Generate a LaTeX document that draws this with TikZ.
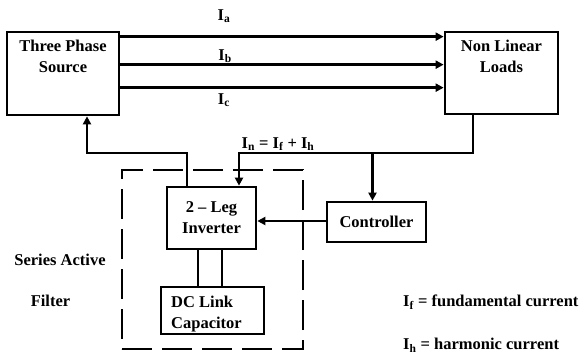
\documentclass[tikz,border=0pt]{standalone}
\usepackage{fontspec}
\setmainfont{Liberation Serif}
\usetikzlibrary{arrows.meta,positioning}
\begin{document}
\begin{tikzpicture}[
        x=1pt, y=-1pt,
        font=\fontsize{16.5}{21}\selectfont\bfseries,
        caja/.style={rectangle, draw=black, line width=2.7pt, align=center, inner sep=2pt},
        texto/.style={align=center, inner sep=0pt},
        linea/.style={line width=2.8pt},
        flecha/.style={linea, -{Triangle[length=8pt,width=8pt]}},
        marco/.style={rectangle, draw=black, line width=2.8pt, dash pattern=on 30pt off 10pt}
    ]
        \useasboundingbox (0,0) rectangle (580,356);

        % Bloques
        \node[caja, minimum width=112pt, minimum height=83pt] (src) at (63,73.5) {};
        \node[texto, below=9.5pt of src.north] (srcT) {Three Phase\\Source};
        \node[caja, minimum width=113pt, minimum height=82pt] (load) at (501.5,73) {};
        \node[texto, below=9.5pt of load.north] (loadT) {Non Linear\\Loads};
        \node[marco, minimum width=181pt, minimum height=179pt] (saf) at (212.5,259.5) {};
        \node[caja, minimum width=89pt, minimum height=62pt] (inv) at (211.5,218) {2 -- Leg\\Inverter};
        \node[caja, minimum width=99pt, minimum height=40pt] (ctrl) at (376.5,222) {Controller};
        \node[texto, align=left] (dcT) at (206.5,314) {DC Link\\Capacitor};
        \node[caja, minimum width=103pt, minimum height=47pt] (dc) at (212.5,310.5) {};

        % Etiquetas
        \node[texto] (ia) at (224,16) {I\textsubscript{a}};
        \node[texto] (ib) at (225,56) {I\textsubscript{b}};
        \node[texto] (ic) at (224,100) {I\textsubscript{c}};
        \node[texto] (in) at (278,144) {I\textsubscript{n} = I\textsubscript{f} + I\textsubscript{h}};
        \node[texto] (safT1) at (60,260) {Series Active};
        \node[texto] (safT2) at (50.5,301) {Filter};
        \node[texto, anchor=west] (nota1) at (403,302) {I\textsubscript{f} = fundamental current};
        \node[texto, anchor=west] (nota2) at (403,345) {I\textsubscript{h} = harmonic current};

        % Puntos de paso
        \coordinate (ret) at (87,153);
        \coordinate (nudo) at (372.5,153);

        % Conexiones
        \draw[flecha] ([yshift=-6pt]src.north east) -- ([yshift=-6pt]load.north west);
        \draw[flecha] ([yshift=-34pt]src.north east) -- ([yshift=-34pt]load.north west);
        \draw[flecha] ([yshift=-57pt]src.north east) -- ([yshift=-57pt]load.north west);
        \draw[flecha] ([xshift=-24.5pt]inv.north) |- (ret) -- (src.south -| ret);
        \draw[flecha] ([xshift=-28.5pt]load.south) |- ([xshift=27.5pt]inv.north |- ret) -- ([xshift=27.5pt]inv.north);
        \draw[flecha] (nudo) -- (nudo |- ctrl.north);
        \draw[flecha] ([yshift=1pt]ctrl.west) -- ([yshift=1pt]ctrl.west -| inv.east);
        \draw[linea] ([xshift=-13.5pt]inv.south) -- ([xshift=-13.5pt]inv.south |- dc.north);
        \draw[linea] ([xshift=10.5pt]inv.south) -- ([xshift=10.5pt]inv.south |- dc.north);
    \end{tikzpicture}
\end{document}
